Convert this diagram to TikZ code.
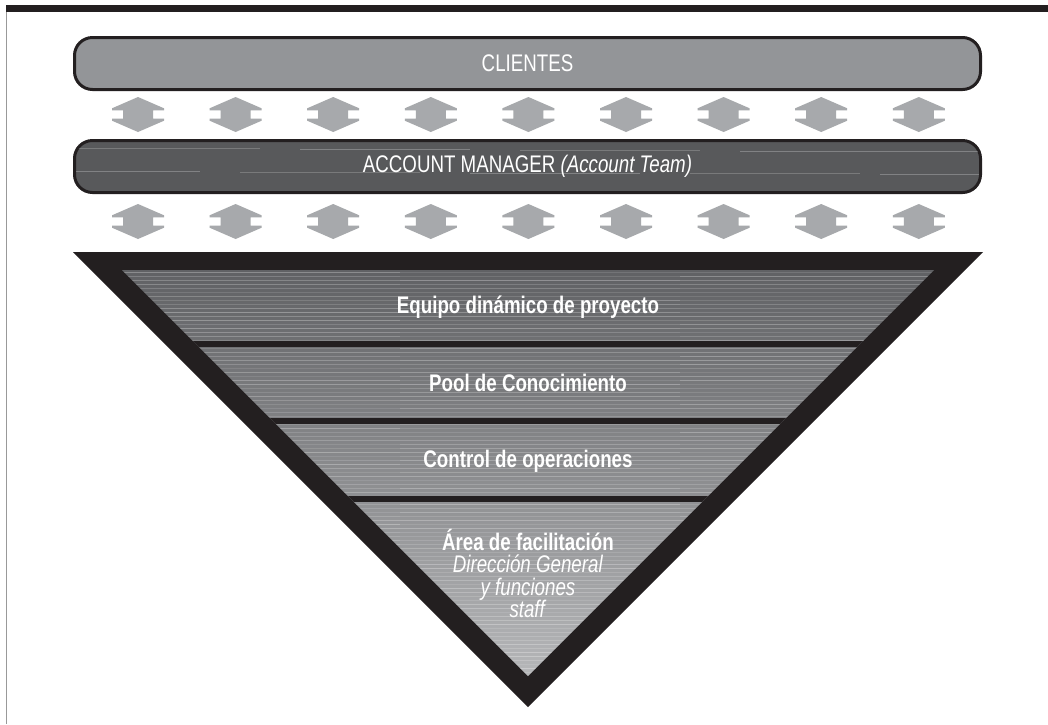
\documentclass[tikz,border=0pt]{standalone}
\usepackage{fontspec}
\setmainfont{Liberation Sans}[FakeStretch=0.78]
\definecolor{barlight}{HTML}{939598}
\definecolor{bardark}{HTML}{58595B}
\definecolor{arrowgray}{HTML}{A7A9AC}
\definecolor{inkblack}{HTML}{231F20}
\definecolor{bandtop}{HTML}{606164}
\definecolor{bandbot}{HTML}{B6B7B9}
\begin{document}
\begin{tikzpicture}[x=1pt,y=-1pt,
  txt/.style={text=white,inner sep=0pt,font=\fontsize{24}{22.4}\selectfont},
  topbar/.style={draw=inkblack,line width=3pt,rounded corners=18pt,minimum width=906pt,minimum height=52pt,inner sep=0pt},
  darrow/.style={fill=arrowgray},
  streak/.style={white,line width=0.9pt}]
\useasboundingbox (0,0) rectangle (1048,724);
\fill[white] (0,0) rectangle (1048,724);
% frame
\fill[inkblack] (6,5) rectangle (1048,12);
\draw[gray!80,line width=1pt] (6,12) -- (6,724);
% bars
\node[topbar,fill=barlight] (clientes) at (527.5,63.5) {};
\node[txt] (clientesT) at (clientes.center) {CLIENTES};
\node[topbar,fill=bardark] (account) at (527.5,166.5) {};
\begin{scope}
  \clip[rounded corners=17pt] (76,141) rectangle (979,192);
  \foreach \a/\b/\y/\o in {76/260/148/0.2,300/470/149/0.25,520/700/150/0.2,740/979/151/0.25,
                           76/200/171/0.25,240/420/172/0.2,470/640/173/0.25,690/860/173/0.2,880/979/174/0.25}
    \draw[streak,opacity=\o] (\a,\y) -- (\b,\y);
\end{scope}
\node[txt] (accountT) at (account.center) {ACCOUNT MANAGER \textit{(Account Team)}};
% double arrows
\foreach \i in {0,...,8}{
  \foreach \cy in {114.5,221.5}{
    \pgfmathsetmacro{\cx}{138+97.6*\i}
    \fill[darrow] (\cx,\cy-17.5) -- (\cx+26,\cy-6.2) -- (\cx+26,\cy-4.2) -- (\cx+15,\cy-4.2)
      -- (\cx+15,\cy+4.2) -- (\cx+26,\cy+4.2) -- (\cx+26,\cy+6.2) -- (\cx,\cy+17.5)
      -- (\cx-26,\cy+6.2) -- (\cx-26,\cy+4.2) -- (\cx-15,\cy+4.2) -- (\cx-15,\cy-4.2)
      -- (\cx-26,\cy-4.2) -- (\cx-26,\cy-6.2) -- cycle;
  }
}
% triangle
\fill[inkblack] (73,252) -- (983,252) -- (528,707) -- cycle;
\shade[top color=bandtop,bottom color=bandbot] (122,270) -- (934,270) -- (528,676) -- cycle;
\begin{scope}
  \clip (122,270) -- (934,270) -- (528,676) -- cycle;
  \pgfmathsetseed{7}
  \foreach \y in {272,276,...,676}{
    \pgfmathsetmacro{\oa}{0.1+0.2*rnd}
    \pgfmathsetmacro{\ob}{0.1+0.2*rnd}
    \pgfmathsetmacro{\oc}{0.1+0.2*rnd}
    \draw[streak,opacity=\oa] (122,\y) -- (400,\y);
    \draw[streak,opacity=\ob] (400,\y+0.5) -- (680,\y+0.5);
    \draw[streak,opacity=\oc] (680,\y) -- (934,\y);
  }
  \fill[inkblack] (100,340.5) rectangle (960,346.5);
  \fill[inkblack] (100,418) rectangle (960,424);
  \fill[inkblack] (100,495.5) rectangle (960,501.5);
\end{scope}
% labels
\node[txt] (b1) at (528,307) {\textbf{Equipo dinámico de proyecto}};
\node[txt] (b2) at (528,383) {\textbf{Pool de Conocimiento}};
\node[txt] (b3) at (528,461) {\textbf{Control de operaciones}};
\node[txt,align=center] (b4) at (528,573.5) {\textbf{Área de facilitación}\\ \textit{Dirección General}\\ \textit{y funciones}\\ \textit{staff}};
\end{tikzpicture}
\end{document}
